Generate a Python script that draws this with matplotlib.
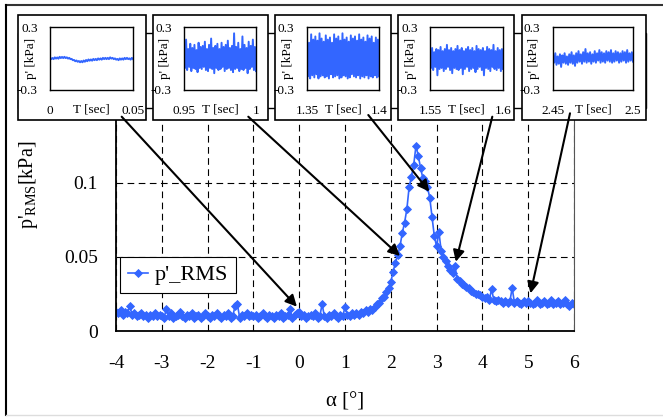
import numpy as np
import matplotlib.pyplot as plt
from matplotlib.patches import Rectangle, ConnectionPatch
from matplotlib.lines import Line2D
from matplotlib.transforms import offset_copy

plt.rcParams['font.family'] = 'Liberation Serif'
plt.rcParams['mathtext.fontset'] = 'custom'
plt.rcParams['mathtext.rm'] = 'Liberation Serif'
plt.rcParams['axes.unicode_minus'] = False

# RMS pressure fluctuation vs angle of attack, every 0.05 deg from -4 to 6
p_rms = [
    0.013, 0.012, 0.014, 0.011, 0.013, 0.012, 0.017, 0.011, 0.012, 0.010,
    0.011, 0.012, 0.010, 0.011, 0.009, 0.011, 0.010, 0.012, 0.010, 0.011,
    0.010, 0.009, 0.015, 0.010, 0.012, 0.009, 0.010, 0.011, 0.013, 0.010,
    0.009, 0.011, 0.010, 0.012, 0.009, 0.010, 0.011, 0.009, 0.010, 0.012,
    0.010, 0.009, 0.011, 0.010, 0.012, 0.010, 0.009, 0.011, 0.010, 0.012,
    0.009, 0.010, 0.017, 0.018, 0.009, 0.011, 0.010, 0.012, 0.010, 0.011,
    0.010, 0.011, 0.009, 0.010, 0.012, 0.010, 0.009, 0.011, 0.010, 0.009,
    0.011, 0.010, 0.012, 0.009, 0.010, 0.011, 0.015, 0.009, 0.011, 0.012,
    0.013, 0.010, 0.011, 0.009, 0.010, 0.011, 0.010, 0.012, 0.009, 0.010,
    0.018, 0.010, 0.009, 0.011, 0.010, 0.012, 0.010, 0.009, 0.011, 0.010,
    0.016, 0.011, 0.010, 0.012, 0.011, 0.012, 0.011, 0.013, 0.012, 0.014,
    0.013, 0.015, 0.014, 0.016, 0.018, 0.019, 0.022, 0.023, 0.026, 0.029,
    0.033, 0.040, 0.046, 0.051, 0.057, 0.066, 0.073, 0.082, 0.097, 0.104,
    0.112, 0.125, 0.118, 0.110, 0.103, 0.101, 0.097, 0.090, 0.077, 0.064,
    0.057, 0.067, 0.054, 0.050, 0.047, 0.044, 0.041, 0.039, 0.044, 0.035,
    0.034, 0.032, 0.031, 0.030, 0.029, 0.027, 0.026, 0.025, 0.025, 0.024,
    0.023, 0.022, 0.023, 0.021, 0.028, 0.021, 0.020, 0.021, 0.020, 0.019,
    0.020, 0.019, 0.020, 0.029, 0.019, 0.020, 0.019, 0.018, 0.020, 0.019,
    0.020, 0.019, 0.018, 0.019, 0.021, 0.018, 0.019, 0.020, 0.018, 0.019,
    0.021, 0.018, 0.019, 0.020, 0.018, 0.019, 0.021, 0.018, 0.017, 0.019,
    0.018,
]
alpha = np.linspace(-4, 6, len(p_rms))

# pressure time traces p' [kPa] shown above the curve
t_windows = [(0, 0.05), (0.95, 1), (1.35, 1.4), (1.55, 1.6), (2.45, 2.5)]
trace_1 = [0.006, -0.006, 0.005, -0.006, 0.011, -0.001, 0.010, -0.002, 0.016, 0.004,
           0.015, 0.004, 0.016, 0.004, 0.011, -0.001, 0.006, -0.006, -0.004, -0.016,
           -0.014, -0.026, -0.019, -0.031, -0.024, -0.036, -0.024, -0.036, -0.019, -0.031,
           -0.014, -0.026, -0.009, -0.021, -0.009, -0.021, -0.004, -0.016, -0.004, -0.016,
           0.001, -0.011, 0.001, -0.011, 0.006, -0.006, 0.006, -0.006, 0.006, -0.006,
           0.011, -0.001, 0.006, -0.006, 0.001, -0.011, -0.004, -0.016, 0.001, -0.011,
           0.001, -0.011, 0.006, -0.006, 0.006, -0.006, 0.001, -0.011, 0.006, -0.006]
trace_2 = [0.12, -0.09, 0.18, -0.11, 0.09, -0.08, 0.14, -0.12, 0.10, -0.09,
           0.13, -0.10, 0.08, -0.13, 0.15, -0.09, 0.11, -0.10, 0.12, -0.08,
           0.16, -0.11, 0.09, -0.12, 0.13, -0.09, 0.19, -0.10, 0.10, -0.14,
           0.12, -0.09, 0.14, -0.11, 0.09, -0.10, 0.15, -0.08, 0.11, -0.12,
           0.13, -0.10, 0.17, -0.09, 0.10, -0.11, 0.12, -0.13, 0.24, -0.10,
           0.11, -0.09, 0.15, -0.12, 0.09, -0.10, 0.21, -0.11, 0.13, -0.09,
           0.10, -0.14, 0.16, -0.10, 0.12, -0.08, 0.18, -0.11, 0.11, -0.12]
trace_3 = [0.20, -0.17, 0.15, -0.19, 0.23, -0.16, 0.18, -0.18, 0.21, -0.15,
           0.17, -0.19, 0.24, -0.17, 0.19, -0.16, 0.16, -0.18, 0.22, -0.17,
           0.18, -0.19, 0.20, -0.15, 0.15, -0.18, 0.23, -0.17, 0.19, -0.16,
           0.21, -0.19, 0.17, -0.18, 0.24, -0.16, 0.18, -0.17, 0.20, -0.19,
           0.16, -0.18, 0.22, -0.15, 0.19, -0.17, 0.21, -0.18, 0.17, -0.16,
           0.23, -0.19, 0.18, -0.17, 0.20, -0.18, 0.16, -0.16, 0.22, -0.19,
           0.19, -0.17, 0.21, -0.18, 0.15, -0.16, 0.20, -0.18, 0.18, -0.17]
trace_4 = [0.07, -0.09, 0.10, -0.11, 0.06, -0.08, 0.09, -0.16, 0.08, -0.10,
           0.11, -0.09, 0.07, -0.12, 0.09, -0.10, 0.13, -0.08, 0.08, -0.11,
           0.10, -0.14, 0.07, -0.09, 0.09, -0.10, 0.12, -0.11, 0.08, -0.09,
           0.10, -0.15, 0.07, -0.10, 0.09, -0.08, 0.11, -0.12, 0.08, -0.10,
           0.10, -0.09, 0.07, -0.13, 0.12, -0.10, 0.09, -0.08, 0.08, -0.11,
           0.10, -0.16, 0.07, -0.09, 0.11, -0.10, 0.09, -0.12, 0.08, -0.08,
           0.13, -0.10, 0.07, -0.11, 0.10, -0.09, 0.08, -0.12, 0.09, -0.10]
trace_5 = [0.03, -0.04, 0.05, -0.06, 0.02, -0.05, 0.04, -0.08, 0.03, -0.04,
           0.05, -0.05, 0.02, -0.06, 0.04, -0.04, 0.06, -0.05, 0.03, -0.07,
           0.05, -0.04, 0.07, -0.03, 0.04, -0.05, 0.06, -0.03, 0.09, -0.04,
           0.05, -0.03, 0.06, -0.05, 0.04, -0.03, 0.07, -0.04, 0.05, -0.02,
           0.08, -0.04, 0.06, -0.03, 0.05, -0.04, 0.07, -0.02, 0.06, -0.03,
           0.08, -0.04, 0.05, -0.03, 0.07, -0.02, 0.06, -0.04, 0.05, -0.03,
           0.07, -0.02, 0.06, -0.04, 0.08, -0.03, 0.05, -0.02, 0.06, -0.03]
traces = [trace_1, trace_2, trace_3, trace_4, trace_5]

# where each trace was taken on the alpha curve
picks = [(-0.05, 0.0164), (2.2, 0.0506), (2.84, 0.094), (3.42, 0.0467), (5.05, 0.0254)]

W, H = 663, 419
blue = '#3366ff'


def px_rect(x0, y0, x1, y1):
    # pixel box measured from the top-left corner -> figure fraction
    return [x0 / W, 1 - y1 / H, (x1 - x0) / W, (y1 - y0) / H]


fig = plt.figure(figsize=(W / 100, H / 100), dpi=100)

# main plot
ax = fig.add_axes(px_rect(116, 120.4, 574, 331))
ax.plot(alpha, p_rms, '-D', color=blue, lw=1.2, ms=4, mew=0.6, label="p'_RMS")
ax.set_xlim(-4, 6)
ax.set_ylim(0, 0.142)
ax.set_xticks(range(-4, 7))
ax.set_yticks([0, 0.05, 0.1])
ax.set_yticklabels(['0', '0.05', '0.1'])
ax.tick_params(length=0, labelsize=14)
ax.tick_params(axis='x', pad=17)
ax.tick_params(axis='y', pad=13)
ax.grid(True, color='k', lw=0.8, ls=(0, (6, 4)))
ax.spines['top'].set_visible(False)
ax.spines['left'].set_linewidth(1.3)
ax.spines['bottom'].set_linewidth(1.3)
ax.spines['right'].set_color('#555555')
ax.set_xlabel('α [°]', fontsize=15)
ax.xaxis.set_label_coords(0.5, -0.29)
ax.set_ylabel(r"p'$_\mathrm{RMS}$[kPa]", fontsize=14.5)
ax.yaxis.set_label_coords(-0.166, 0.693)
leg = ax.legend(loc='lower left', bbox_to_anchor=(0.0087, 0.18), borderaxespad=0,
                fontsize=16, numpoints=1, handlelength=0.9, handletextpad=0.3,
                borderpad=0.35, fancybox=False, edgecolor='k', framealpha=1)
leg.get_frame().set_linewidth(0.8)

# outer frame of the whole figure
fig.add_artist(Line2D([6 / W, 1], [1 - 5 / H] * 2, color='#333333', lw=1.5))
fig.add_artist(Line2D([6 / W] * 2, [1 - 5 / H, 1 - 415 / H], color='k', lw=1.5))
fig.add_artist(Line2D([6 / W, 1], [1 - 415 / H] * 2, color='#dddddd', lw=1))

# strip behind the inset boxes (shows between them)
strip = px_rect(18, 33, 646, 108)
fig.add_artist(Rectangle(strip[:2], strip[2], strip[3], transform=fig.transFigure,
                         facecolor='none', edgecolor='k', lw=1, zorder=1))

frames = [(18, 146), (153, 268), (275, 391), (398, 514), (522, 646)]
inner = [(50, 133), (184, 256), (307, 379), (430, 503), (553, 633)]

for (f0, f1), (i0, i1), (t0, t1), sig in zip(frames, inner, t_windows, traces):
    r = px_rect(f0, 15, f1, 120)
    fig.add_artist(Rectangle(r[:2], r[2], r[3], transform=fig.transFigure,
                             facecolor='white', edgecolor='k', lw=1.2, zorder=2))
    iax = fig.add_axes(px_rect(i0, 27, i1, 90))
    iax.set_zorder(3)
    t = np.linspace(t0, t1, len(sig))
    iax.plot(t, sig, color=blue, lw=1.4)
    iax.set_xlim(t0, t1)
    iax.set_ylim(-0.3, 0.3)
    iax.set_xticks([t0, t1])
    iax.set_xticklabels([f'{t0:g}', f'{t1:g}'])
    iax.set_yticks([-0.3, 0.3])
    iax.set_yticklabels(['-0.3', '0.3'])
    iax.tick_params(length=0, labelsize=9.5)
    iax.tick_params(axis='x', pad=11)
    iax.tick_params(axis='y', pad=9)
    iax.set_xlabel('T [sec]', fontsize=9.5)
    iax.xaxis.set_label_coords(0.5, -0.21)
    for s in iax.spines.values():
        s.set_linewidth(1)
    iax.text(0, 0.5, "p' [kPa]", rotation=90, ha='center', va='center', fontsize=9.5,
             transform=offset_copy(iax.transAxes, fig=fig, x=-19, y=0, units='dots'))

# arrows from each inset to its point on the curve
starts = [(121.7, 116.7), (248.3, 116.7), (368.3, 115), (492.3, 116.7), (570, 113.3)]
for (sx, sy), (ax_x, ax_y) in zip(starts, picks):
    con = ConnectionPatch(xyA=(sx, H - sy), coordsA='figure pixels',
                          xyB=(ax_x, ax_y), coordsB=ax.transData,
                          arrowstyle='-|>', mutation_scale=17, lw=1.5, color='k',
                          shrinkA=0, shrinkB=0, zorder=5)
    fig.add_artist(con)

fig.savefig('out.png', dpi=100)
